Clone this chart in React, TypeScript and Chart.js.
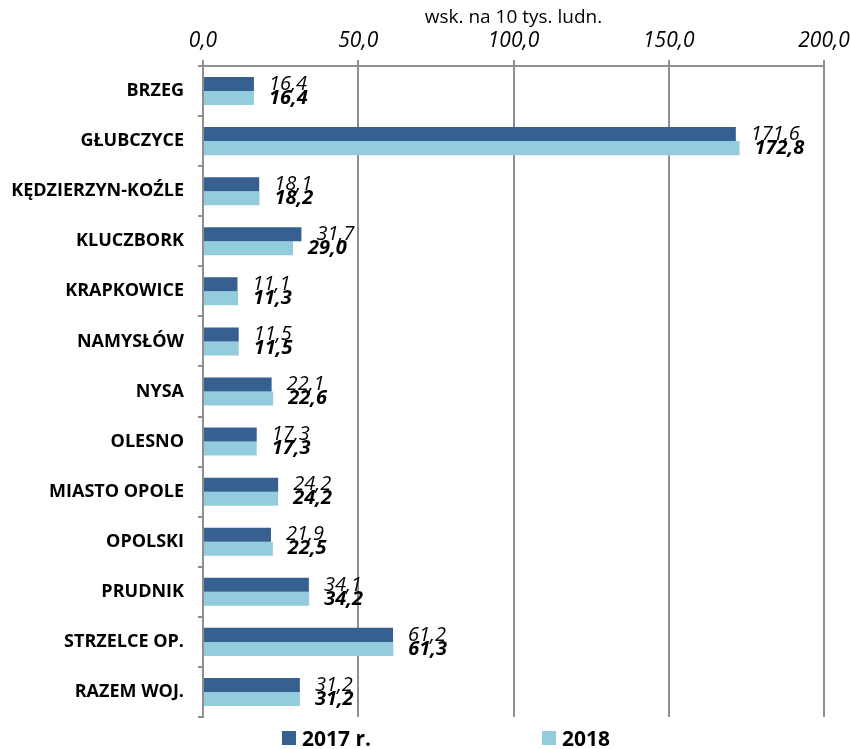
import React, { useEffect, useRef } from "react";
import { Chart, registerables } from "chart.js";

Chart.register(...registerables);

const categories = [
  "BRZEG",
  "GŁUBCZYCE",
  "KĘDZIERZYN-KOŹLE",
  "KLUCZBORK",
  "KRAPKOWICE",
  "NAMYSŁÓW",
  "NYSA",
  "OLESNO",
  "MIASTO OPOLE",
  "OPOLSKI",
  "PRUDNIK",
  "STRZELCE OP.",
  "RAZEM WOJ.",
];
const values2017 = [16.4, 171.6, 18.1, 31.7, 11.1, 11.5, 22.1, 17.3, 24.2, 21.9, 34.1, 61.2, 31.2];
const values2018 = [16.4, 172.8, 18.2, 29.0, 11.3, 11.5, 22.6, 17.3, 24.2, 22.5, 34.2, 61.3, 31.2];
const seriesNames = ["2017 r.", "2018"];
const seriesColors = ["#36608F", "#93CDDD"];
const axisTitle = "wsk. na 10 tys. ludn.";

const FONT = "'Open Sans', 'DejaVu Sans', sans-serif";
const fmt = (v: number) => v.toFixed(1).replace(".", ",");

const labelPlugin = {
  id: "barValueLabels",
  afterDatasetsDraw(chart: any) {
    const ctx = chart.ctx;
    ctx.save();
    ctx.fillStyle = "#000";
    ctx.textAlign = "left";
    ctx.textBaseline = "middle";
    chart.data.datasets.forEach((ds: any, i: number) => {
      const meta = chart.getDatasetMeta(i);
      ctx.font = (i === 0 ? "italic 400 " : "italic 700 ") + "20px " + FONT;
      meta.data.forEach((bar: any, j: number) => {
        ctx.fillText(fmt(ds.data[j]), bar.x + 15, bar.y);
      });
    });
    ctx.restore();
  },
};

export default function App() {
  const ref = useRef<HTMLCanvasElement | null>(null);
  useEffect(() => {
    document.body.style.margin = "0";
    if (!ref.current) return;
    const chart = new Chart(ref.current, {
      type: "bar",
      data: {
        labels: categories,
        datasets: [
          { label: seriesNames[0], data: values2017, backgroundColor: seriesColors[0], categoryPercentage: 0.56, barPercentage: 1.0 },
          { label: seriesNames[1], data: values2018, backgroundColor: seriesColors[1], categoryPercentage: 0.56, barPercentage: 1.0 },
        ],
      },
      options: {
        indexAxis: "y",
        animation: false,
        responsive: false,
        layout: { padding: { left: 0, right: 26, top: 0, bottom: 32 } },
        plugins: {
          legend: { display: false },
          tooltip: { enabled: false },
        },
        scales: {
          x: {
            position: "top",
            min: 0,
            max: 200,
            ticks: {
              stepSize: 50,
              color: "#000",
              font: { family: FONT, size: 21, style: "italic" },
              padding: 6,
              callback: (v: any) => fmt(Number(v)),
              maxRotation: 0,
            },
            grid: { color: "#8F8F8F", lineWidth: 2, tickLength: 6 },
            border: { color: "#8F8F8F", width: 2 },
            title: {
              display: true,
              text: axisTitle,
              color: "#000",
              font: { family: FONT, size: 19 },
              padding: { top: 6, bottom: 0 },
            },
            afterFit: (scale: any) => {
              scale.height = 66;
              scale.paddingRight = 0;
              scale.paddingLeft = 0;
            },
          },
          y: {
            ticks: {
              color: "#000",
              font: { family: FONT, size: 18, weight: "bold" },
              padding: 14,
            },
            grid: { drawOnChartArea: false, color: "#8F8F8F", lineWidth: 2, tickLength: 5, offset: true },
            border: { color: "#8F8F8F", width: 2 },
            afterFit: (scale: any) => {
              scale.width = 203;
            },
          },
        },
      },
      plugins: [labelPlugin],
    } as any);
    return () => chart.destroy();
  }, []);

  const legendItem = (i: number, left: number) => (
    <div
      style={{
        position: "absolute",
        left,
        top: 727,
        display: "flex",
        alignItems: "center",
        fontFamily: FONT,
        fontWeight: 700,
        fontSize: 21,
        lineHeight: "22px",
        color: "#000",
      }}
    >
      <span style={{ display: "inline-block", width: 14, height: 14, background: seriesColors[i], marginRight: 6 }} />
      {seriesNames[i]}
    </div>
  );

  return (
    <div style={{ position: "relative", width: 850, height: 749 }}>
      <canvas ref={ref} width={850} height={749} style={{ display: "block" }} />
      {legendItem(0, 282)}
      {legendItem(1, 542)}
    </div>
  );
}
